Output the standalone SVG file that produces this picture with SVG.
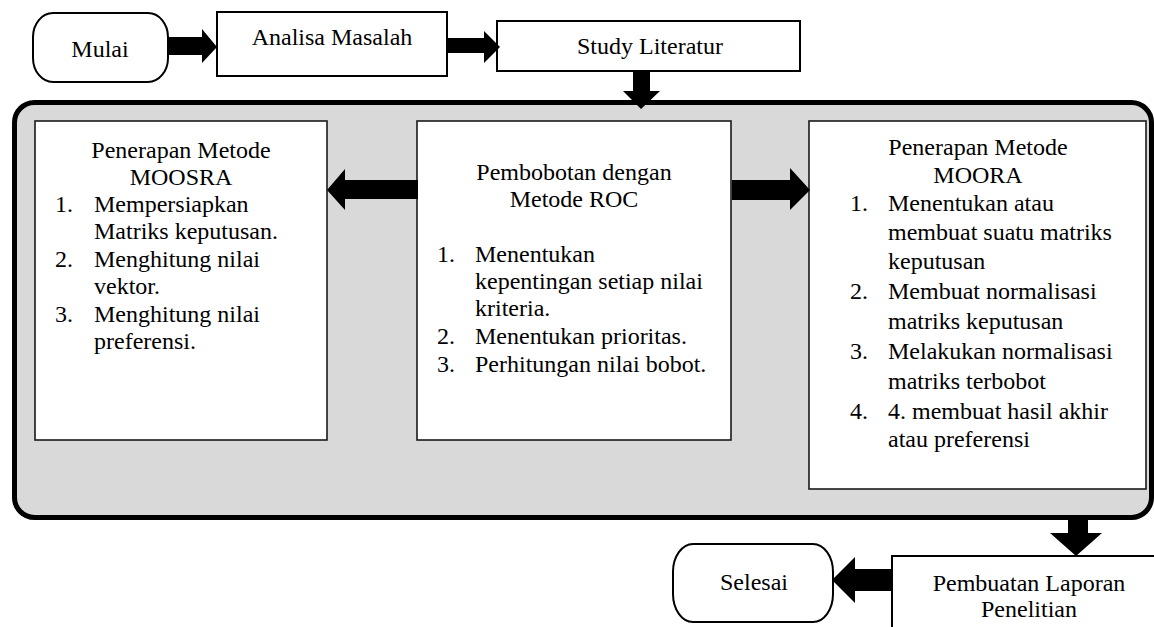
<svg xmlns="http://www.w3.org/2000/svg" width="1154" height="627" viewBox="0 0 1154 627">
<style>
.t{font-family:'Liberation Serif','Times New Roman',serif;font-size:24px;fill:#000}
.c{text-anchor:middle}
.box{fill:#fff;stroke:#000;stroke-width:2}
.ibox{fill:#fff;stroke:#1a1a1a;stroke-width:1.6}
.arr{fill:#000;stroke:none}
</style>
<rect width="1154" height="627" fill="#fff"/>
<g id="container">
<rect x="14.5" y="102.5" width="1137" height="415" rx="20" ry="20" fill="#d9d9d9" stroke="#000" stroke-width="5"/>
</g>
<g id="mulai">
<rect class="box" x="33" y="13" width="135" height="69" rx="20" ry="24"/>
<text class="t c" font-family="Liberation Serif" x="100" y="57">Mulai</text>
</g>
<g id="analisa">
<rect class="box" x="217" y="12" width="230" height="64"/>
<text class="t c" font-family="Liberation Serif" x="332" y="45">Analisa Masalah</text>
</g>
<g id="study">
<rect class="box" x="497" y="21" width="303" height="50"/>
<text class="t c" font-family="Liberation Serif" x="650" y="54">Study Literatur</text>
</g>
<g id="moosra">
<rect class="ibox" x="35" y="121" width="292" height="319"/>
<text class="t c" font-family="Liberation Serif" x="181" y="158">Penerapan Metode</text>
<text class="t c" font-family="Liberation Serif" x="181" y="185">MOOSRA</text>
<text class="t" font-family="Liberation Serif" x="55" y="212">1.</text>
<text class="t" font-family="Liberation Serif" x="94" y="212">Mempersiapkan</text>
<text class="t" font-family="Liberation Serif" x="94" y="239">Matriks keputusan.</text>
<text class="t" font-family="Liberation Serif" x="55" y="267">2.</text>
<text class="t" font-family="Liberation Serif" x="94" y="267">Menghitung nilai</text>
<text class="t" font-family="Liberation Serif" x="94" y="294">vektor.</text>
<text class="t" font-family="Liberation Serif" x="55" y="322">3.</text>
<text class="t" font-family="Liberation Serif" x="94" y="322">Menghitung nilai</text>
<text class="t" font-family="Liberation Serif" x="94" y="349">preferensi.</text>
</g>
<g id="roc">
<rect class="ibox" x="417" y="121" width="314" height="319"/>
<text class="t c" font-family="Liberation Serif" x="574" y="180">Pembobotan dengan</text>
<text class="t c" font-family="Liberation Serif" x="574" y="207">Metode ROC</text>
<text class="t" font-family="Liberation Serif" x="437" y="262">1.</text>
<text class="t" font-family="Liberation Serif" x="475" y="262">Menentukan</text>
<text class="t" font-family="Liberation Serif" x="475" y="289">kepentingan setiap nilai</text>
<text class="t" font-family="Liberation Serif" x="475" y="316">kriteria.</text>
<text class="t" font-family="Liberation Serif" x="437" y="344">2.</text>
<text class="t" font-family="Liberation Serif" x="475" y="344">Menentukan prioritas.</text>
<text class="t" font-family="Liberation Serif" x="437" y="372">3.</text>
<text class="t" font-family="Liberation Serif" x="475" y="372">Perhitungan nilai bobot.</text>
</g>
<g id="moora">
<rect class="ibox" x="809" y="121" width="337" height="368"/>
<text class="t c" font-family="Liberation Serif" x="978" y="155">Penerapan Metode</text>
<text class="t c" font-family="Liberation Serif" x="978" y="183">MOORA</text>
<text class="t" font-family="Liberation Serif" x="850" y="211">1.</text>
<text class="t" font-family="Liberation Serif" x="888" y="211">Menentukan atau</text>
<text class="t" font-family="Liberation Serif" x="888" y="240">membuat suatu matriks</text>
<text class="t" font-family="Liberation Serif" x="888" y="269">keputusan</text>
<text class="t" font-family="Liberation Serif" x="850" y="299">2.</text>
<text class="t" font-family="Liberation Serif" x="888" y="299">Membuat normalisasi</text>
<text class="t" font-family="Liberation Serif" x="888" y="329">matriks keputusan</text>
<text class="t" font-family="Liberation Serif" x="850" y="359">3.</text>
<text class="t" font-family="Liberation Serif" x="888" y="359">Melakukan normalisasi</text>
<text class="t" font-family="Liberation Serif" x="888" y="389">matriks terbobot</text>
<text class="t" font-family="Liberation Serif" x="850" y="419">4.</text>
<text class="t" font-family="Liberation Serif" x="888" y="419">4. membuat hasil akhir</text>
<text class="t" font-family="Liberation Serif" x="888" y="447">atau preferensi</text>
</g>
<g id="laporan">
<rect class="box" x="892" y="556" width="290" height="100"/>
<text class="t c" font-family="Liberation Serif" x="1029" y="591">Pembuatan Laporan</text>
<text class="t c" font-family="Liberation Serif" x="1029" y="617">Penelitian</text>
</g>
<g id="selesai">
<rect class="box" x="673" y="544" width="160" height="78" rx="20" ry="28"/>
<text class="t c" font-family="Liberation Serif" x="754" y="590">Selesai</text>
</g>
<g id="connectors">
<polygon class="arr" points="167,37 202,37 202,29 217,47 202,63 202,55 167,55"/>
<polygon class="arr" points="448,38 484,38 484,31 500,47 484,63 484,53 448,53"/>
<polygon class="arr" points="633,71 650,71 650,91 660,91 641,109 623,91 633,91"/>
<polygon class="arr" points="418,180 345,180 345,169 327,190 345,210 345,199 418,199"/>
<polygon class="arr" points="732,180 790,180 790,168 810,190 790,210 790,200 732,200"/>
<polygon class="arr" points="1068,519 1088,519 1088,533 1102,533 1076,556 1050,533 1068,533"/>
<polygon class="arr" points="893,569 855,569 855,557 832,580 855,603 855,591 893,591"/>
</g>
</svg>
